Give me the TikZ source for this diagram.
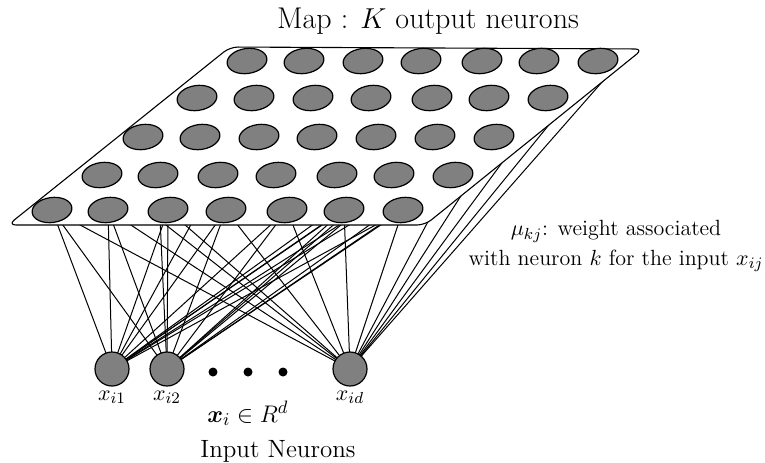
\documentclass[tikz,border=0pt]{standalone}
\usepackage{amsmath}
\usepackage{bm}
\usetikzlibrary{shapes.geometric}
\pgfdeclarelayer{bg}
\pgfsetlayers{bg,main}
\definecolor{neurongray}{RGB}{128,128,128}
\begin{document}
\begin{tikzpicture}[x=0.5pt,y=-0.5pt,
  outn/.style={ellipse, draw=black, line width=0.6pt, fill=neurongray,
               minimum width=20pt, minimum height=12.5pt, inner sep=0pt, rotate=8},
  inn/.style={circle, draw=black, line width=0.6pt, fill=neurongray,
              minimum size=17pt, inner sep=0pt},
  dotn/.style={circle, fill=black, minimum size=4.5pt, inner sep=0pt},
  wire/.style={line width=0.5pt},
  plane/.style={draw=black, line width=0.55pt, fill=white, rounded corners=4pt},
  lbl/.style={font=\fontsize{11}{13}\selectfont, anchor=base, inner sep=0pt},
  biglbl/.style={font=\fontsize{12.5}{15}\selectfont, anchor=base, inner sep=0pt}]
\useasboundingbox (0,0) rectangle (765,462);

% plane of the map
\draw[plane] (8,225) -- (230,47) -- (643,49) -- (425,225) -- cycle;

% output neurons (rows 1..5, columns 1..7)
\foreach \x [count=\c] in {247,304,363,421,482,539,598}
  \node[outn] (o1c\c) at (\x,61) {};
\foreach \x [count=\c] in {197,254,313,371,432,489,548}
  \node[outn] (o2c\c) at (\x,98) {};
\foreach \x [count=\c] in {143,200,259,317,376,435,494}
  \node[outn] (o3c\c) at (\x,137) {};
\foreach \x [count=\c] in {102,158,218,276,337,394,453}
  \node[outn] (o4c\c) at (\x,175) {};
\foreach \x [count=\c] in {52,108,168,226,287,344,403}
  \node[outn] (o5c\c) at (\x,210) {};

% input neurons
\node[inn] (ina) at (112,369) {};
\node[inn] (inb) at (167,369) {};
\node[inn] (ind) at (350,369) {};
\node[dotn] (d1) at (213,372) {};
\node[dotn] (d2) at (248,372) {};
\node[dotn] (d3) at (283,372) {};

% points where the weights of x_id meet the right edge (hidden by the plane)
\coordinate (r1) at (432,214);
\coordinate (r2) at (466,188);
\coordinate (r3) at (507,156);
\coordinate (r4) at (561,110);
\coordinate (r5) at (617,65);

% connections (behind the plane)
\begin{pgfonlayer}{bg}
\foreach \i in {ina,inb,ind}
  \foreach \c in {1,...,7}
    \draw[wire] (\i.center) -- (o5c\c.center);
\foreach \t in {o1c7,o2c6,o3c7,o4c6,o4c3}
  \draw[wire] (ina.center) -- (\t.center);
\foreach \t in {o1c6,o2c7,o3c6,o4c7,o4c2}
  \draw[wire] (inb.center) -- (\t.center);
\foreach \t in {r1,r2,r3,r4,r5,o4c1}
  \draw[wire] (ind.center) -- (\t);
\end{pgfonlayer}

% labels
\node[font=\fontsize{15}{18}\selectfont, anchor=base, inner sep=0pt] (title) at (428,28)
  {Map : $K$ output neurons};
\node[font=\fontsize{11}{15}\selectfont, align=center, inner sep=0pt] (wlabel) at (616,246)
  {$\mu_{kj}$: weight associated\\ with neuron $k$ for the input $x_{ij}$};
\node[lbl] (la) at (112,400) {$x_{i1}$};
\node[lbl] (lb) at (167,400) {$x_{i2}$};
\node[lbl] (ld) at (350,400) {$x_{id}$};
\node[biglbl] (xin) at (248,422) {$\bm{x}_i \in R^d$};
\node[biglbl] (inlabel) at (278,457) {Input Neurons};
\end{tikzpicture}
\end{document}
